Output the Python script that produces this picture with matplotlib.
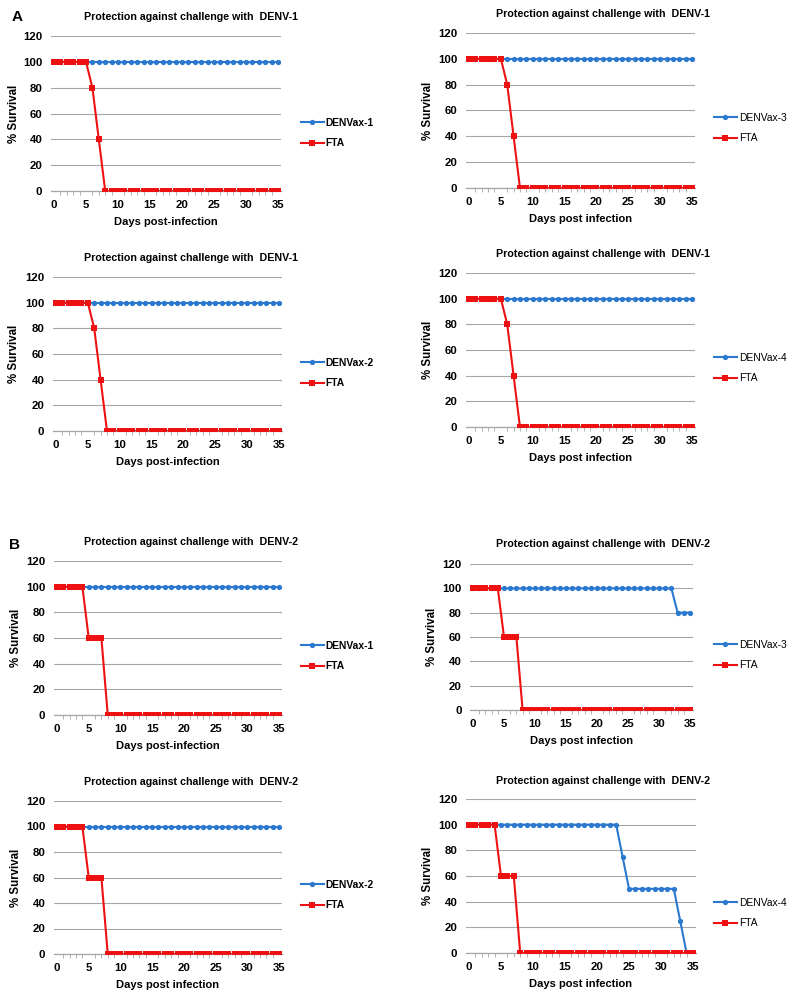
import matplotlib
matplotlib.use("Agg")
import matplotlib.pyplot as plt

plt.rcParams['font.family'] = ['Liberation Sans', 'DejaVu Sans']

# days post infection
days = [0, 1, 2, 3, 4, 5, 6, 7, 8, 9, 10, 11, 12, 13, 14, 15, 16, 17,
        18, 19, 20, 21, 22, 23, 24, 25, 26, 27, 28, 29, 30, 31, 32, 33, 34, 35]

# survival (%)
vax_all_alive = [100, 100, 100, 100, 100, 100, 100, 100, 100, 100, 100, 100,
                 100, 100, 100, 100, 100, 100, 100, 100, 100, 100, 100, 100,
                 100, 100, 100, 100, 100, 100, 100, 100, 100, 100, 100, 100]
fta_denv1 = [100, 100, 100, 100, 100, 100, 80, 40, 0, 0, 0, 0,
             0, 0, 0, 0, 0, 0, 0, 0, 0, 0, 0, 0,
             0, 0, 0, 0, 0, 0, 0, 0, 0, 0, 0, 0]
fta_denv2 = [100, 100, 100, 100, 100, 60, 60, 60, 0, 0, 0, 0,
             0, 0, 0, 0, 0, 0, 0, 0, 0, 0, 0, 0,
             0, 0, 0, 0, 0, 0, 0, 0, 0, 0, 0, 0]
vax3_denv2 = [100, 100, 100, 100, 100, 100, 100, 100, 100, 100, 100, 100,
              100, 100, 100, 100, 100, 100, 100, 100, 100, 100, 100, 100,
              100, 100, 100, 100, 100, 100, 100, 100, 100, 80, 80, 80]
vax4_denv2 = [100, 100, 100, 100, 100, 100, 100, 100, 100, 100, 100, 100,
              100, 100, 100, 100, 100, 100, 100, 100, 100, 100, 100, 100,
              75, 50, 50, 50, 50, 50, 50, 50, 50, 25, 0, 0]

yticks = [0, 20, 40, 60, 80, 100, 120]
xticks = [0, 5, 10, 15, 20, 25, 30, 35]

# (challenge, vaccine label, vaccine series, fta series, xlabel, side)
panels = [
    ("DENV-1", "DENVax-1", vax_all_alive, fta_denv1, "Days post-infection", "L"),
    ("DENV-1", "DENVax-3", vax_all_alive, fta_denv1, "Days post infection", "R"),
    ("DENV-1", "DENVax-2", vax_all_alive, fta_denv1, "Days post-infection", "L"),
    ("DENV-1", "DENVax-4", vax_all_alive, fta_denv1, "Days post infection", "R"),
    ("DENV-2", "DENVax-1", vax_all_alive, fta_denv2, "Days post-infection", "L"),
    ("DENV-2", "DENVax-3", vax3_denv2, fta_denv2, "Days post infection", "R"),
    ("DENV-2", "DENVax-2", vax_all_alive, fta_denv2, "Days post infection", "L"),
    ("DENV-2", "DENVax-4", vax4_denv2, fta_denv2, "Days post infection", "R"),
]

# pixel layout: x of day 0, x of day 35, y of 120, y of 0, title y, legend y, ylabel x
layout = [
    (54, 278, 36, 191, 17, 133, 14),
    (469, 692, 33, 188, 14, 128, 428),
    (56, 279, 277, 431, 258, 373, 14),
    (469, 692, 273, 427, 254, 368, 428),
    (57, 279, 561, 715, 542, 656, 16),
    (473, 690, 564, 710, 544, 655, 432),
    (57, 279, 801, 954, 782, 895, 16),
    (469, 693, 799, 953, 781, 913, 428),
]

W, H = 800, 1000
fig = plt.figure(figsize=(8, 10), dpi=100)

blue = '#2b78cf'
red = '#ee1111'
grid_c = '#a6a6a6'

for (chal, vax, vser, fser, xlab, side), (x0, x35, y120, y0, ty, ly, yx) in zip(panels, layout):
    d = (x35 - x0) / 35.0
    left = (x0 - 0.5 * d) / W
    width = (x35 - x0 + d) / W
    bottom = 1 - y0 / H
    height = (y0 - y120) / H
    ax = fig.add_axes([left, bottom, width, height])

    ax.plot(days, vser, color=blue, lw=1.5, marker='o', ms=3.8,
            markeredgewidth=0, label=vax, zorder=3)
    ax.plot(days, fser, color=red, lw=1.5, marker='s', ms=3.9,
            markeredgewidth=0, label="FTA", zorder=4)

    ax.set_xlim(-0.5, 35.5)
    ax.set_ylim(0, 120)
    ax.set_yticks(yticks)
    ax.set_xticks(xticks)
    ax.set_xticks(days, minor=True)
    ax.grid(axis='y', color=grid_c, lw=0.8)
    ax.set_axisbelow(True)
    for s in ['top', 'right', 'left']:
        ax.spines[s].set_visible(False)
    ax.spines['bottom'].set_color(grid_c)
    ax.spines['bottom'].set_linewidth(0.9)
    ax.tick_params(axis='y', length=0, labelsize=8.2, pad=6)
    ax.tick_params(axis='x', which='minor', length=3, color=grid_c)
    ax.tick_params(axis='x', which='major', length=0, labelsize=8.2, pad=6.8)
    for lab in ax.get_xticklabels() + ax.get_yticklabels():
        lab.set_fontweight('bold')
    ax.set_xlabel(xlab, fontsize=8, fontweight='bold', labelpad=4.5)
    # the anchor is the right edge of the rotated text, so shift by half its height
    ax.set_ylabel("% Survival", fontsize=8.3, fontweight='bold')
    ax.yaxis.set_label_coords((yx + 6) / W, 1 - (y0 + y120) / 2 / H,
                              transform=fig.transFigure)

    tx = 191 if side == "L" else 603
    fig.text(tx / W, 1 - ty / H, "Protection against challenge with  " + chal,
             ha='center', va='center', fontsize=7.7, fontweight='bold')

    lx = 301 if side == "L" else 714
    leg = ax.legend(loc='center left', bbox_to_anchor=(lx / W, 1 - ly / H),
                    bbox_transform=fig.transFigure, frameon=False,
                    fontsize=7.4, handlelength=2.2, handletextpad=0.2,
                    labelspacing=1.0, borderpad=0, borderaxespad=0)
    for t in leg.get_texts():
        t.set_fontweight('bold' if side == "L" else 'normal')

fig.text(17 / W, 1 - 17 / H, "A", ha='center', va='center',
         fontsize=11, fontweight='bold')
fig.text(15 / W, 1 - 545 / H, "B", ha='center', va='center',
         fontsize=11, fontweight='bold')

fig.savefig("out.png", dpi=100)
